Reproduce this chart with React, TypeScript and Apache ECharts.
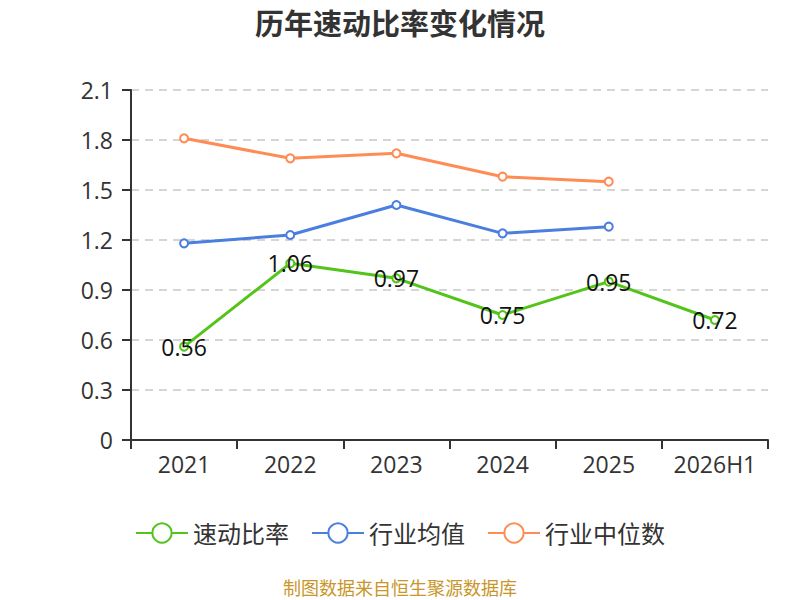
import React, { useEffect, useRef } from "react";
import * as echarts from "echarts";

const categories = ["2021", "2022", "2023", "2024", "2025", "2026H1"];
const quickRatio = [0.56, 1.06, 0.97, 0.75, 0.95, 0.72];
const industryAvg = [1.18, 1.23, 1.41, 1.24, 1.28];
const industryMedian = [1.81, 1.69, 1.72, 1.58, 1.55];
const seriesNames = ["速动比率", "行业均值", "行业中位数"];

const FONT = "'Open Sans', 'Noto Sans CJK SC', sans-serif";

export default function App() {
  const ref = useRef<HTMLDivElement>(null);
  useEffect(() => {
    document.body.style.margin = "0";
    const chart = echarts.init(ref.current!, null, { renderer: "svg" });
    chart.setOption({
      animation: false,
      textStyle: { fontFamily: FONT },
      title: {
        text: "历年速动比率变化情况",
        left: "center",
        top: 4,
        textStyle: { fontSize: 29, fontWeight: "bold", color: "#333", fontFamily: FONT },
      },
      grid: { left: 131, right: 32, top: 90, bottom: 160 },
      legend: {
        bottom: 50,
        left: "center",
        itemWidth: 52,
        itemHeight: 24,
        itemGap: 22,
        textStyle: { fontSize: 24, color: "#333", fontFamily: FONT },
        data: seriesNames,
      },
      xAxis: {
        type: "category",
        data: categories,
        boundaryGap: true,
        axisLine: { lineStyle: { color: "#333", width: 2 } },
        axisTick: { show: true, interval: 0, length: 9, lineStyle: { color: "#333", width: 2 } },
        axisLabel: { interval: 0, fontSize: 23, color: "#333", margin: 12 },
      },
      yAxis: {
        type: "value",
        min: 0,
        max: 2.1,
        interval: 0.3,
        axisLine: { show: true, lineStyle: { color: "#333", width: 2 } },
        axisTick: { show: true, length: 9, lineStyle: { color: "#333", width: 2 } },
        axisLabel: { fontSize: 23, color: "#333", margin: 18 },
        splitLine: { lineStyle: { type: [8, 6], color: "#c8c8c8", width: 1.5 } },
      },
      series: [
        {
          name: seriesNames[0],
          type: "line",
          data: quickRatio,
          symbol: "emptyCircle",
          symbolSize: 8,
          color: "#52c41a",
          lineStyle: { width: 3 },
          label: { show: true, position: "inside", fontSize: 23, color: "#111", fontFamily: FONT },
          z: 3,
        },
        {
          name: seriesNames[1],
          type: "line",
          data: industryAvg,
          symbol: "emptyCircle",
          symbolSize: 8,
          color: "#4a7fe0",
          lineStyle: { width: 3 },
        },
        {
          name: seriesNames[2],
          type: "line",
          data: industryMedian,
          symbol: "emptyCircle",
          symbolSize: 8,
          color: "#ff8c55",
          lineStyle: { width: 3 },
        },
      ],
      graphic: [
        {
          type: "text",
          left: "center",
          top: 579,
          style: { text: "制图数据来自恒生聚源数据库", fontSize: 18, fill: "#c8962a", fontFamily: FONT },
        },
      ],
    });
    return () => chart.dispose();
  }, []);
  return <div ref={ref} style={{ width: 800, height: 600 }} />;
}
